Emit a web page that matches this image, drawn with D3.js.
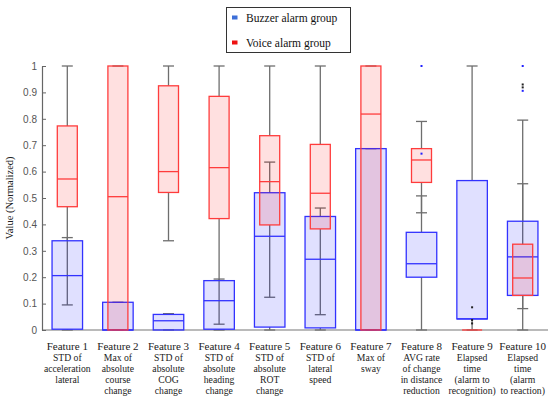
<!DOCTYPE html>
<html>
<head>
<meta charset="utf-8">
<script src="https://cdn.jsdelivr.net/npm/d3@7"></script>
<style>
  body { margin: 0; background: #fff; }
  #chart { width: 550px; height: 397px; }
  .tick text { font-family: "Liberation Sans", Arial, sans-serif; font-size: 10px; fill: #555; }
  .xlab { font-family: "Liberation Serif", serif; fill: #222; }
</style>
</head>
<body>
<div id="chart"></div>
<script>
// data
const features = ["F1", "F2", "F3", "F4", "F5", "F6", "F7", "F8", "F9", "F10"];
const featureLabels = [
    ["Feature 1", "STD of", "acceleration", "lateral"],
    ["Feature 2", "Max of", "absolute", "course", "change"],
    ["Feature 3", "STD of", "absolute", "COG", "change"],
    ["Feature 4", "STD of", "absolute", "heading", "change"],
    ["Feature 5", "STD of", "absolute", "ROT", "change"],
    ["Feature 6", "STD of", "lateral", "speed"],
    ["Feature 7", "Max of", "sway"],
    ["Feature 8", "AVG rate", "of change", "in distance", "reduction"],
    ["Feature 9", "Elapsed", "time", "(alarm to", "recognition)"],
    ["Feature 10", "Elapsed", "time", "(alarm", "to reaction)"]
];
const yTicks = [0, 0.1, 0.2, 0.3, 0.4, 0.5, 0.6, 0.7, 0.8, 0.9, 1];

// buzzer alarm group (blue)
const buzzerQ1 = [0.003, 0, 0, 0.003, 0.011, 0.008, 0, 0.2, 0.042, 0.131];
const buzzerMedian = [0.206, 0, 0.035, 0.111, 0.355, 0.268, 0, 0.251, 0.042, 0.277];
const buzzerQ3 = [0.338, 0.105, 0.059, 0.187, 0.52, 0.43, 0.687, 0.37, 0.566, 0.412];
const buzzerLow = [0, 0, 0, 0, 0, 0, 0, 0, 0, 0.081];
const buzzerHigh = [0.35, 0.105, 0.062, 0.193, 0.636, 0.462, 0.687, 0.508, 1, 0.795];

// voice alarm group (red)
const voiceQ1 = [0.467, 0, 0.521, 0.422, 0.398, 0.383, 0, 0.559, 0, 0.131];
const voiceMedian = [0.572, 0.505, 0.6, 0.615, 0.562, 0.518, 0.818, 0.644, 0, 0.197];
const voiceQ3 = [0.773, 1, 0.925, 0.885, 0.736, 0.703, 1, 0.687, 0, 0.325];
const voiceLow = [0.095, 0, 0.338, 0.022, 0.124, 0.058, 0, 0.444, 0, 0];
const voiceHigh = [1, 1, 1, 1, 1, 1, 1, 0.79, 0, 0.554];

// outliers: [feature, value, colour]
const outlierFeature = ["F8", "F8", "F9", "F9", "F9", "F10", "F10", "F10", "F10"];
const outlierValue = [1, 0.668, 0.086, 0.038, 0.025, 1, 0.93, 0.919, 0.906];
const outlierBlue = [true, true, false, false, false, true, false, false, true];

const width = 550, height = 397;
const margin = { top: 66, left: 42, right: 2, bottom: 67 };

const svg = d3.select("#chart").append("svg")
    .attr("width", width)
    .attr("height", height);

const xScale = d3.scaleBand()
    .domain(features)
    .range([margin.left, width - margin.right])
    .padding(0);

const yScale = d3.scaleLinear()
    .domain([0, 1])
    .range([height - margin.bottom, margin.top]);

// build box table for each group
function makeBoxes(q1, med, q3, lo, hi) {
    return features.map((f, i) => ({ f: f, q1: q1[i], med: med[i], q3: q3[i], lo: lo[i], hi: hi[i] }));
}
const groups = [
    { name: "buzzer", boxes: makeBoxes(buzzerQ1, buzzerMedian, buzzerQ3, buzzerLow, buzzerHigh),
      stroke: "#3232ff", fill: "#0000ff", w: 30.5 },
    { name: "voice", boxes: makeBoxes(voiceQ1, voiceMedian, voiceQ3, voiceLow, voiceHigh),
      stroke: "#ff3c3c", fill: "#ff0000", w: 20 }
];
const cx = f => xScale(f) + xScale.bandwidth() / 2;
const capW = 11;

// x axis line
svg.append("line")
    .attr("x1", margin.left).attr("x2", width - margin.right)
    .attr("y1", yScale(0)).attr("y2", yScale(0))
    .attr("stroke", "#777").attr("stroke-width", 1.2);

// whiskers first so boxes sit on top
groups.forEach(g => {
    const wg = svg.append("g").attr("class", "whisk-" + g.name);
    g.boxes.forEach(d => {
        if (d.hi > d.q3) {
            wg.append("line").attr("x1", cx(d.f)).attr("x2", cx(d.f))
                .attr("y1", yScale(d.q3)).attr("y2", yScale(d.hi));
        }
        if (d.lo < d.q1) {
            wg.append("line").attr("x1", cx(d.f)).attr("x2", cx(d.f))
                .attr("y1", yScale(d.q1)).attr("y2", yScale(d.lo));
        }
        if (!(d.hi === 0 && d.q3 === 0)) {
            [d.lo, d.hi].forEach(v => {
                wg.append("line")
                    .attr("x1", cx(d.f) - capW / 2).attr("x2", cx(d.f) + capW / 2)
                    .attr("y1", yScale(v)).attr("y2", yScale(v));
            });
        }
    });
    wg.selectAll("line").attr("stroke", "#6e6e6e").attr("stroke-width", 1.3);
});

// boxes
groups.forEach(g => {
    const bg = svg.append("g").attr("class", "box-" + g.name);
    bg.selectAll("rect")
        .data(g.boxes)
        .enter()
        .append("rect")
        .attr("x", d => cx(d.f) - g.w / 2)
        .attr("y", d => yScale(d.q3))
        .attr("width", g.w)
        .attr("height", d => yScale(d.q1) - yScale(d.q3))
        .attr("fill", g.fill)
        .attr("fill-opacity", 0.12)
        .attr("stroke", g.stroke)
        .attr("stroke-width", d => d.q3 === d.q1 ? 2.2 : 1.3);
    bg.selectAll(".med")
        .data(g.boxes)
        .enter()
        .append("line")
        .attr("class", "med")
        .attr("x1", d => cx(d.f) - g.w / 2)
        .attr("x2", d => cx(d.f) + g.w / 2)
        .attr("y1", d => yScale(d.med))
        .attr("y2", d => yScale(d.med))
        .attr("stroke", g.stroke)
        .attr("stroke-width", 1.3);
});

// outliers
svg.selectAll(".outlier")
    .data(outlierValue)
    .enter()
    .append("rect")
    .attr("class", "outlier")
    .attr("x", (d, i) => cx(outlierFeature[i]) - 1)
    .attr("y", d => yScale(d) - 1)
    .attr("width", 2)
    .attr("height", 2)
    .attr("fill", (d, i) => outlierBlue[i] ? "#2020ff" : "#222");

// y axis, MATLAB style ticks pointing inward
const yAxis = svg.append("g")
    .attr("transform", `translate(${margin.left},0)`)
    .call(d3.axisLeft(yScale).tickValues(yTicks).tickFormat(d3.format("~g"))
        .tickSizeInner(-4).tickSizeOuter(0).tickPadding(5));
yAxis.select(".domain").attr("stroke", "#666").attr("stroke-width", 1.2);
yAxis.selectAll(".tick line").attr("stroke", "#666");

svg.append("text")
    .attr("transform", "rotate(-90)")
    .attr("x", -(margin.top + yScale(0)) / 2)
    .attr("y", 13)
    .attr("text-anchor", "middle")
    .attr("font-family", "Liberation Serif, serif")
    .attr("font-size", 10.5)
    .attr("fill", "#222")
    .text("Value (Normalized)");

// x category labels
featureLabels.forEach((lines, i) => {
    const t = svg.append("text")
        .attr("class", "xlab")
        .attr("text-anchor", "middle")
        .attr("x", cx(features[i]));
    lines.forEach((s, j) => {
        t.append("tspan")
            .attr("x", cx(features[i]))
            .attr("y", 350 + j * 11)
            .attr("font-size", j === 0 ? 11 : 9.7)
            .text(s);
    });
});

// legend
const legend = svg.append("g");
legend.append("rect")
    .attr("x", 226.5).attr("y", 7.5)
    .attr("width", 124).attr("height", 45)
    .attr("fill", "#fff").attr("stroke", "#333").attr("stroke-width", 1);
const legendNames = ["Buzzer alarm group", "Voice alarm group"];
const legendColors = ["#3d6fd8", "#ee1111"];
legendNames.forEach((name, i) => {
    legend.append("rect")
        .attr("x", 232).attr("y", 15.5 + i * 25)
        .attr("width", 5.5).attr("height", 4)
        .attr("fill", legendColors[i]);
    legend.append("text")
        .attr("x", 246).attr("y", 22 + i * 25)
        .attr("font-family", "Liberation Serif, serif")
        .attr("font-size", 11.5)
        .attr("fill", "#111")
        .text(name);
});
</script>
</body>
</html>
